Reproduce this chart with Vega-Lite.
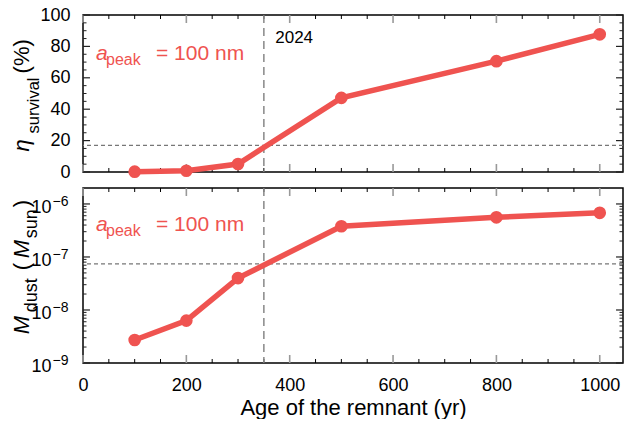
{
  "$schema": "https://vega.github.io/schema/vega-lite/v6.json",
  "padding": {"left": 10, "top": 5, "right": 0, "bottom": 0},
  "spacing": 16,
  "bounds": "flush",
  "config": {
    "font": "Liberation Sans",
    "view": {"stroke": "#000000", "strokeWidth": 1.5},
    "axis": {"domain": false, "grid": false, "ticks": false, "tickSize": 0, "labelFont": "Liberation Sans", "labelFontSize": 18, "labelColor": "#000000", "titleFont": "Liberation Sans", "titleColor": "#000000", "titleFontWeight": "normal", "labelFlush": false, "labelOverlap": false},
    "text": {"font": "Liberation Sans"},
    "rule": {"strokeCap": "butt"}
  },
  "datasets": {
    "xMajor": [{"age": 0}, {"age": 200}, {"age": 400}, {"age": 600}, {"age": 800}, {"age": 1000}],
    "xMinor": [{"age": 50}, {"age": 100}, {"age": 150}, {"age": 250}, {"age": 300}, {"age": 350}, {"age": 450}, {"age": 500}, {"age": 550}, {"age": 650}, {"age": 700}, {"age": 750}, {"age": 850}, {"age": 900}, {"age": 950}],
    "etaMajor": [{"eta": 0}, {"eta": 20}, {"eta": 40}, {"eta": 60}, {"eta": 80}, {"eta": 100}],
    "etaMinor": [{"eta": 5}, {"eta": 10}, {"eta": 15}, {"eta": 25}, {"eta": 30}, {"eta": 35}, {"eta": 45}, {"eta": 50}, {"eta": 55}, {"eta": 65}, {"eta": 70}, {"eta": 75}, {"eta": 85}, {"eta": 90}, {"eta": 95}],
    "mMajor": [{"mdust": 1e-9}, {"mdust": 1e-8}, {"mdust": 1e-7}, {"mdust": 1e-6}],
    "mMinor": [{"mdust": 2e-9}, {"mdust": 3e-9}, {"mdust": 4e-9}, {"mdust": 5e-9}, {"mdust": 6e-9}, {"mdust": 7e-9}, {"mdust": 8e-9}, {"mdust": 9e-9}, {"mdust": 2e-8}, {"mdust": 3e-8}, {"mdust": 4e-8}, {"mdust": 5e-8}, {"mdust": 6e-8}, {"mdust": 7e-8}, {"mdust": 8e-8}, {"mdust": 9e-8}, {"mdust": 2e-7}, {"mdust": 3e-7}, {"mdust": 4e-7}, {"mdust": 5e-7}, {"mdust": 6e-7}, {"mdust": 7e-7}, {"mdust": 8e-7}, {"mdust": 9e-7}]
  },
  "vconcat": [
    {
      "width": 540,
      "height": 157,
      "resolve": {"axis": {"x": "independent", "y": "independent"}},
      "layer": [
        {
          "data": {"name": "xMajor"},
          "mark": {"type": "rule", "color": "#999999", "strokeWidth": 1.6},
          "encoding": {"x": {"field": "age", "type": "quantitative", "scale": {"domain": [0, 1045], "nice": false, "zero": false}, "axis": null}, "y": {"datum": 0, "type": "quantitative", "scale": {"domain": [0, 100], "nice": false, "zero": false}, "axis": null}, "y2": {"datum": 5.1}}
        },
        {
          "data": {"name": "xMajor"},
          "mark": {"type": "rule", "color": "#999999", "strokeWidth": 1.6},
          "encoding": {"x": {"field": "age", "type": "quantitative", "scale": {"domain": [0, 1045], "nice": false, "zero": false}, "axis": null}, "y": {"datum": 100, "type": "quantitative", "scale": {"domain": [0, 100], "nice": false, "zero": false}, "axis": null}, "y2": {"datum": 94.9}}
        },
        {
          "data": {"name": "xMinor"},
          "mark": {"type": "rule", "color": "#000000", "strokeWidth": 1},
          "encoding": {"x": {"field": "age", "type": "quantitative", "scale": {"domain": [0, 1045], "nice": false, "zero": false}, "axis": null}, "y": {"datum": 0, "type": "quantitative", "scale": {"domain": [0, 100], "nice": false, "zero": false}, "axis": null}, "y2": {"datum": 2.55}}
        },
        {
          "data": {"name": "xMinor"},
          "mark": {"type": "rule", "color": "#000000", "strokeWidth": 1},
          "encoding": {"x": {"field": "age", "type": "quantitative", "scale": {"domain": [0, 1045], "nice": false, "zero": false}, "axis": null}, "y": {"datum": 100, "type": "quantitative", "scale": {"domain": [0, 100], "nice": false, "zero": false}, "axis": null}, "y2": {"datum": 97.45}}
        },
        {
          "data": {"name": "etaMajor"},
          "mark": {"type": "rule", "color": "#222222", "strokeWidth": 1.2},
          "encoding": {"y": {"field": "eta", "type": "quantitative", "scale": {"domain": [0, 100], "nice": false, "zero": false}, "axis": null}, "x": {"datum": 0, "type": "quantitative", "scale": {"domain": [0, 1045], "nice": false, "zero": false}, "axis": null}, "x2": {"datum": 13.5}}
        },
        {
          "data": {"name": "etaMajor"},
          "mark": {"type": "rule", "color": "#222222", "strokeWidth": 1.2},
          "encoding": {"y": {"field": "eta", "type": "quantitative", "scale": {"domain": [0, 100], "nice": false, "zero": false}, "axis": null}, "x": {"datum": 1045, "type": "quantitative", "scale": {"domain": [0, 1045], "nice": false, "zero": false}, "axis": null}, "x2": {"datum": 1031.5}}
        },
        {
          "data": {"name": "etaMinor"},
          "mark": {"type": "rule", "color": "#222222", "strokeWidth": 1},
          "encoding": {"y": {"field": "eta", "type": "quantitative", "scale": {"domain": [0, 100], "nice": false, "zero": false}, "axis": null}, "x": {"datum": 0, "type": "quantitative", "scale": {"domain": [0, 1045], "nice": false, "zero": false}, "axis": null}, "x2": {"datum": 6.8}}
        },
        {
          "data": {"name": "etaMinor"},
          "mark": {"type": "rule", "color": "#222222", "strokeWidth": 1},
          "encoding": {"y": {"field": "eta", "type": "quantitative", "scale": {"domain": [0, 100], "nice": false, "zero": false}, "axis": null}, "x": {"datum": 1045, "type": "quantitative", "scale": {"domain": [0, 1045], "nice": false, "zero": false}, "axis": null}, "x2": {"datum": 1038.2}}
        },
        {
          "data": {"values": [{"eta": 16.9}]},
          "mark": {"type": "rule", "color": "#777777", "strokeWidth": 1.2, "strokeDash": [4, 3]},
          "encoding": {"y": {"field": "eta", "type": "quantitative", "scale": {"domain": [0, 100], "nice": false, "zero": false}, "axis": null}}
        },
        {
          "data": {"values": [{"age": 350}]},
          "mark": {"type": "rule", "color": "#888888", "strokeWidth": 1.5, "strokeDash": [8, 5]},
          "encoding": {"x": {"field": "age", "type": "quantitative", "scale": {"domain": [0, 1045], "nice": false, "zero": false}, "axis": null}}
        },
        {
          "data": {"values": [
            {"age": 100, "eta": 0.2},
            {"age": 200, "eta": 0.8},
            {"age": 300, "eta": 5.1},
            {"age": 500, "eta": 47.2},
            {"age": 800, "eta": 70.6},
            {"age": 1000, "eta": 87.7}
          ]},
          "mark": {"type": "line", "color": "#EF5350", "strokeWidth": 5.5, "point": {"filled": true, "size": 160, "color": "#EF5350", "opacity": 1}},
          "encoding": {
            "x": {"field": "age", "type": "quantitative", "scale": {"domain": [0, 1045], "nice": false, "zero": false}, "axis": null},
            "y": {"field": "eta", "type": "quantitative", "scale": {"domain": [0, 100], "nice": false, "zero": false},
              "axis": {"orient": "left", "title": null, "values": [0, 20, 40, 60, 80, 100], "labelPadding": 13}}
          }
        },
        {
          "data": {"values": [{"age": 372, "eta": 82, "label": "2024"}]},
          "mark": {"type": "text", "align": "left", "baseline": "alphabetic", "fontSize": 17, "color": "#000000"},
          "encoding": {
            "x": {"field": "age", "type": "quantitative", "scale": {"domain": [0, 1045], "nice": false, "zero": false}, "axis": null},
            "y": {"field": "eta", "type": "quantitative", "scale": {"domain": [0, 100], "nice": false, "zero": false}, "axis": null},
            "text": {"field": "label"}
          }
        },
        {
          "data": {"values": [{"age": 25.2, "eta": 71.1, "a": "a", "sub": "peak", "rest": "= 100 nm"}]},
          "encoding": {
            "x": {"field": "age", "type": "quantitative", "scale": {"domain": [0, 1045], "nice": false, "zero": false}, "axis": null},
            "y": {"field": "eta", "type": "quantitative", "scale": {"domain": [0, 100], "nice": false, "zero": false}, "axis": null}
          },
          "layer": [
            {"mark": {"type": "text", "align": "left", "baseline": "alphabetic", "fontSize": 21, "fontStyle": "italic", "color": "#EF5350"}, "encoding": {"text": {"field": "a"}}},
            {"mark": {"type": "text", "align": "left", "baseline": "alphabetic", "fontSize": 16, "color": "#EF5350", "dx": 10, "dy": 5}, "encoding": {"text": {"field": "sub"}}},
            {"mark": {"type": "text", "align": "left", "baseline": "alphabetic", "fontSize": 21, "color": "#EF5350", "dx": 60}, "encoding": {"text": {"field": "rest"}}}
          ]
        },
        {
          "data": {"values": [{"age": -104.5, "eta": 13.1, "main": "η", "sub": "survival", "rest": "(%)"}]},
          "encoding": {
            "x": {"field": "age", "type": "quantitative", "scale": {"domain": [0, 1045], "nice": false, "zero": false}, "axis": null},
            "y": {"field": "eta", "type": "quantitative", "scale": {"domain": [0, 100], "nice": false, "zero": false}, "axis": null}
          },
          "layer": [
            {"mark": {"type": "text", "align": "left", "baseline": "alphabetic", "angle": 270, "fontSize": 22, "fontStyle": "italic", "color": "#000000"}, "encoding": {"text": {"field": "main"}}},
            {"mark": {"type": "text", "align": "left", "baseline": "alphabetic", "angle": 270, "fontSize": 16.5, "color": "#000000", "dx": 18, "dy": 10}, "encoding": {"text": {"field": "sub"}}},
            {"mark": {"type": "text", "align": "left", "baseline": "alphabetic", "angle": 270, "fontSize": 22, "color": "#000000", "dx": 78}, "encoding": {"text": {"field": "rest"}}}
          ]
        }
      ]
    },
    {
      "width": 540,
      "height": 175,
      "resolve": {"axis": {"x": "independent", "y": "independent"}},
      "layer": [
        {
          "data": {"name": "xMajor"},
          "mark": {"type": "rule", "color": "#999999", "strokeWidth": 1.6},
          "encoding": {"x": {"field": "age", "type": "quantitative", "scale": {"domain": [0, 1045], "nice": false, "zero": false}, "axis": null}, "y": {"datum": 1e-9, "type": "quantitative", "scale": {"type": "log", "domain": [1e-9, 2e-6], "nice": false}, "axis": null}, "y2": {"datum": 1.415e-9}}
        },
        {
          "data": {"name": "xMajor"},
          "mark": {"type": "rule", "color": "#999999", "strokeWidth": 1.6},
          "encoding": {"x": {"field": "age", "type": "quantitative", "scale": {"domain": [0, 1045], "nice": false, "zero": false}, "axis": null}, "y": {"datum": 2e-6, "type": "quantitative", "scale": {"type": "log", "domain": [1e-9, 2e-6], "nice": false}, "axis": null}, "y2": {"datum": 1.413e-6}}
        },
        {
          "data": {"name": "xMinor"},
          "mark": {"type": "rule", "color": "#000000", "strokeWidth": 1},
          "encoding": {"x": {"field": "age", "type": "quantitative", "scale": {"domain": [0, 1045], "nice": false, "zero": false}, "axis": null}, "y": {"datum": 1e-9, "type": "quantitative", "scale": {"type": "log", "domain": [1e-9, 2e-6], "nice": false}, "axis": null}, "y2": {"datum": 1.19e-9}}
        },
        {
          "data": {"name": "xMinor"},
          "mark": {"type": "rule", "color": "#000000", "strokeWidth": 1},
          "encoding": {"x": {"field": "age", "type": "quantitative", "scale": {"domain": [0, 1045], "nice": false, "zero": false}, "axis": null}, "y": {"datum": 2e-6, "type": "quantitative", "scale": {"type": "log", "domain": [1e-9, 2e-6], "nice": false}, "axis": null}, "y2": {"datum": 1.68e-6}}
        },
        {
          "data": {"name": "mMajor"},
          "mark": {"type": "rule", "color": "#222222", "strokeWidth": 1.2},
          "encoding": {"y": {"field": "mdust", "type": "quantitative", "scale": {"type": "log", "domain": [1e-9, 2e-6], "nice": false}, "axis": null}, "x": {"datum": 0, "type": "quantitative", "scale": {"domain": [0, 1045], "nice": false, "zero": false}, "axis": null}, "x2": {"datum": 13.5}}
        },
        {
          "data": {"name": "mMajor"},
          "mark": {"type": "rule", "color": "#222222", "strokeWidth": 1.2},
          "encoding": {"y": {"field": "mdust", "type": "quantitative", "scale": {"type": "log", "domain": [1e-9, 2e-6], "nice": false}, "axis": null}, "x": {"datum": 1045, "type": "quantitative", "scale": {"domain": [0, 1045], "nice": false, "zero": false}, "axis": null}, "x2": {"datum": 1031.5}}
        },
        {
          "data": {"name": "mMinor"},
          "mark": {"type": "rule", "color": "#222222", "strokeWidth": 1},
          "encoding": {"y": {"field": "mdust", "type": "quantitative", "scale": {"type": "log", "domain": [1e-9, 2e-6], "nice": false}, "axis": null}, "x": {"datum": 0, "type": "quantitative", "scale": {"domain": [0, 1045], "nice": false, "zero": false}, "axis": null}, "x2": {"datum": 6.8}}
        },
        {
          "data": {"name": "mMinor"},
          "mark": {"type": "rule", "color": "#222222", "strokeWidth": 1},
          "encoding": {"y": {"field": "mdust", "type": "quantitative", "scale": {"type": "log", "domain": [1e-9, 2e-6], "nice": false}, "axis": null}, "x": {"datum": 1045, "type": "quantitative", "scale": {"domain": [0, 1045], "nice": false, "zero": false}, "axis": null}, "x2": {"datum": 1038.2}}
        },
        {
          "data": {"values": [{"mdust": 7.4e-8}]},
          "mark": {"type": "rule", "color": "#777777", "strokeWidth": 1.2, "strokeDash": [4, 3]},
          "encoding": {"y": {"field": "mdust", "type": "quantitative", "scale": {"type": "log", "domain": [1e-9, 2e-6], "nice": false}, "axis": null}}
        },
        {
          "data": {"values": [{"age": 350}]},
          "mark": {"type": "rule", "color": "#888888", "strokeWidth": 1.5, "strokeDash": [8, 5]},
          "encoding": {"x": {"field": "age", "type": "quantitative", "scale": {"domain": [0, 1045], "nice": false, "zero": false}, "axis": null}}
        },
        {
          "data": {"values": [
            {"age": 100, "mdust": 2.71e-9},
            {"age": 200, "mdust": 6.3e-9},
            {"age": 300, "mdust": 4.0e-8},
            {"age": 500, "mdust": 3.8e-7},
            {"age": 800, "mdust": 5.6e-7},
            {"age": 1000, "mdust": 6.8e-7}
          ]},
          "mark": {"type": "line", "color": "#EF5350", "strokeWidth": 5.5, "point": {"filled": true, "size": 160, "color": "#EF5350", "opacity": 1}},
          "encoding": {
            "x": {"field": "age", "type": "quantitative", "scale": {"domain": [0, 1045], "nice": false, "zero": false},
              "axis": {"orient": "bottom", "title": "Age of the remnant (yr)", "titleFontSize": 22, "titlePadding": 3, "format": "d",
                "values": [0, 200, 400, 600, 800, 1000], "labelPadding": 13}},
            "y": {"field": "mdust", "type": "quantitative", "scale": {"type": "log", "domain": [1e-9, 2e-6], "nice": false}, "axis": null}
          }
        },
        {
          "data": {"values": [
            {"age": -61, "mdust": 1e-9, "base": "10", "exp": "−9"},
            {"age": -61, "mdust": 1e-8, "base": "10", "exp": "−8"},
            {"age": -61, "mdust": 1e-7, "base": "10", "exp": "−7"},
            {"age": -61, "mdust": 1e-6, "base": "10", "exp": "−6"}
          ]},
          "encoding": {
            "x": {"field": "age", "type": "quantitative", "scale": {"domain": [0, 1045], "nice": false, "zero": false}, "axis": null},
            "y": {"field": "mdust", "type": "quantitative", "scale": {"type": "log", "domain": [1e-9, 2e-6], "nice": false}, "axis": null}
          },
          "layer": [
            {"mark": {"type": "text", "align": "right", "baseline": "alphabetic", "fontSize": 18, "color": "#000000", "dy": 9}, "encoding": {"text": {"field": "base"}}},
            {"mark": {"type": "text", "align": "left", "baseline": "alphabetic", "fontSize": 14, "color": "#000000", "dx": 1, "dy": 2}, "encoding": {"text": {"field": "exp"}}}
          ]
        },
        {
          "data": {"values": [{"age": 25.2, "mdust": 3.06e-7, "a": "a", "sub": "peak", "rest": "= 100 nm"}]},
          "encoding": {
            "x": {"field": "age", "type": "quantitative", "scale": {"domain": [0, 1045], "nice": false, "zero": false}, "axis": null},
            "y": {"field": "mdust", "type": "quantitative", "scale": {"type": "log", "domain": [1e-9, 2e-6], "nice": false}, "axis": null}
          },
          "layer": [
            {"mark": {"type": "text", "align": "left", "baseline": "alphabetic", "fontSize": 21, "fontStyle": "italic", "color": "#EF5350"}, "encoding": {"text": {"field": "a"}}},
            {"mark": {"type": "text", "align": "left", "baseline": "alphabetic", "fontSize": 16, "color": "#EF5350", "dx": 10, "dy": 5}, "encoding": {"text": {"field": "sub"}}},
            {"mark": {"type": "text", "align": "left", "baseline": "alphabetic", "fontSize": 21, "color": "#EF5350", "dx": 60}, "encoding": {"text": {"field": "rest"}}}
          ]
        },
        {
          "data": {"values": [{"age": -104.5, "mdust": 3.5e-9, "m": "M", "sub1": "dust", "open": "(", "sub2": "sun", "close": ")"}]},
          "encoding": {
            "x": {"field": "age", "type": "quantitative", "scale": {"domain": [0, 1045], "nice": false, "zero": false}, "axis": null},
            "y": {"field": "mdust", "type": "quantitative", "scale": {"type": "log", "domain": [1e-9, 2e-6], "nice": false}, "axis": null}
          },
          "layer": [
            {"mark": {"type": "text", "align": "left", "baseline": "alphabetic", "angle": 270, "fontSize": 22, "fontStyle": "italic", "color": "#000000"}, "encoding": {"text": {"field": "m"}}},
            {"mark": {"type": "text", "align": "left", "baseline": "alphabetic", "angle": 270, "fontSize": 18, "color": "#000000", "dx": 22, "dy": 8}, "encoding": {"text": {"field": "sub1"}}},
            {"mark": {"type": "text", "align": "left", "baseline": "alphabetic", "angle": 270, "fontSize": 22, "color": "#000000", "dx": 64}, "encoding": {"text": {"field": "open"}}},
            {"mark": {"type": "text", "align": "left", "baseline": "alphabetic", "angle": 270, "fontSize": 22, "fontStyle": "italic", "color": "#000000", "dx": 76}, "encoding": {"text": {"field": "m"}}},
            {"mark": {"type": "text", "align": "left", "baseline": "alphabetic", "angle": 270, "fontSize": 18, "color": "#000000", "dx": 96, "dy": 8}, "encoding": {"text": {"field": "sub2"}}},
            {"mark": {"type": "text", "align": "left", "baseline": "alphabetic", "angle": 270, "fontSize": 22, "color": "#000000", "dx": 127}, "encoding": {"text": {"field": "close"}}}
          ]
        }
      ]
    }
  ]
}
